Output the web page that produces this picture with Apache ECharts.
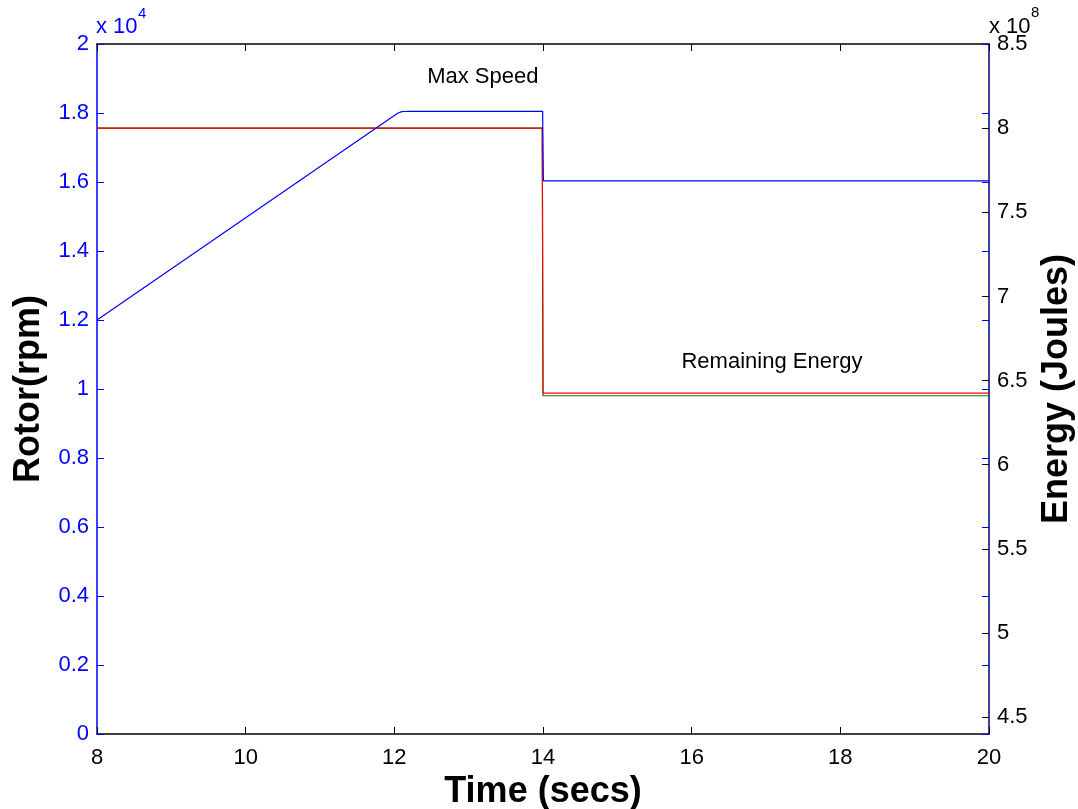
<!DOCTYPE html>
<html>
<head>
<meta charset="utf-8">
<script src="https://cdn.jsdelivr.net/npm/echarts@6/dist/echarts.min.js"></script>
<style>
  html, body { margin: 0; padding: 0; background: #fff; }
  #chart { width: 1078px; height: 809px; }
</style>
</head>
<body>
<div id="chart"></div>
<script>
// Rotor speed (x10^4 rpm) against time (s)
const rotorTime  = [8, 12.0, 12.05, 12.1, 12.2, 13.995, 14.005, 20];
const rotorSpeed = [1.2, 1.793, 1.8, 1.804, 1.805, 1.805, 1.603, 1.603];

// Energy (x10^8 J) against time (s)
const energyTime   = [8, 13.99, 14.0, 20];
const energyRed    = [8.0, 8.0, 6.425, 6.425];
const energyGreen  = [8.0, 8.0, 6.41, 6.41];

// Axis tick values
const timeTicks   = [8, 10, 12, 14, 16, 18, 20];
const rotorTicks  = [0, 0.2, 0.4, 0.6, 0.8, 1, 1.2, 1.4, 1.6, 1.8, 2];
const energyTicks = [4.5, 5, 5.5, 6, 6.5, 7, 7.5, 8, 8.5];

// Annotation anchors [time, value]
const maxSpeedAt  = [13.19, 1.905];
const remainingAt = [17.08, 6.61];

const pairs = (xs, ys) => xs.map((x, i) => [x, ys[i]]);

const FONT = 'Liberation Sans, Arial, Helvetica, sans-serif';
const BLUE = '#0000ff';
const NAVY = '#00007f';

const chart = echarts.init(document.getElementById('chart'), null, { renderer: 'canvas' });

const noteLabel = (text) => ({
  show: true, position: 'inside', formatter: text,
  fontFamily: FONT, fontSize: 22, color: '#000'
});

const titleStyle = { fontFamily: FONT, fontSize: 36, fontWeight: 'bold', color: '#000' };

chart.setOption({
  animation: false,
  backgroundColor: '#ffffff',
  grid: { left: 97, right: 89, top: 44, bottom: 75, containLabel: false, outerBoundsMode: 'none' },
  xAxis: [
    {
      type: 'value', position: 'bottom', min: 8, max: 20, interval: 2,
      name: 'Time (secs)', nameLocation: 'middle', nameGap: 34,
      nameTextStyle: titleStyle,
      axisLine: { show: true, onZero: false, lineStyle: { color: '#000', width: 1.5 } },
      axisTick: { show: true, inside: true, length: 7, lineStyle: { color: '#000' } },
      axisLabel: { fontFamily: FONT, fontSize: 22, color: '#000', margin: 13,
                   customValues: timeTicks },
      splitLine: { show: false }
    },
    {
      type: 'value', position: 'top', min: 8, max: 20, interval: 2,
      axisLine: { show: true, onZero: false, lineStyle: { color: '#000', width: 1.5 } },
      axisTick: { show: true, inside: true, length: 7, lineStyle: { color: '#000' } },
      axisLabel: { show: false },
      splitLine: { show: false }
    }
  ],
  yAxis: [
    {
      type: 'value', position: 'left', min: 0, max: 2, interval: 0.2,
      name: 'Rotor(rpm)', nameLocation: 'middle', nameGap: 49, nameRotate: 90,
      nameTextStyle: titleStyle,
      axisLine: { show: true, onZero: false, lineStyle: { color: BLUE, width: 1.5 } },
      axisTick: { show: true, inside: true, length: 7, lineStyle: { color: BLUE } },
      axisLabel: { fontFamily: FONT, fontSize: 22, color: BLUE, margin: 8,
                   customValues: rotorTicks },
      splitLine: { show: false }
    },
    {
      type: 'value', position: 'right', min: 4.4, max: 8.5,
      name: 'Energy (Joules)', nameLocation: 'middle', nameGap: 50, nameRotate: 90,
      nameTextStyle: titleStyle,
      axisLine: { show: true, onZero: false, lineStyle: { color: NAVY, width: 1.5 } },
      axisTick: { show: true, inside: true, length: 7, lineStyle: { color: '#000' },
                  customValues: energyTicks },
      axisLabel: { fontFamily: FONT, fontSize: 22, color: '#000', margin: 8,
                   customValues: energyTicks },
      splitLine: { show: false }
    },
    {
      // rotor ticks mirrored on the right edge
      type: 'value', position: 'right', min: 0, max: 2, interval: 0.2,
      axisLine: { show: false },
      axisTick: { show: true, inside: true, length: 7, lineStyle: { color: BLUE } },
      axisLabel: { show: false },
      splitLine: { show: false }
    }
  ],
  series: [
    {
      type: 'line', name: 'Rotor', xAxisIndex: 0, yAxisIndex: 0,
      data: pairs(rotorTime, rotorSpeed), showSymbol: false, symbol: 'none',
      lineStyle: { color: BLUE, width: 1.2 }, z: 3,
      markPoint: {
        symbol: 'circle', symbolSize: 1, silent: true,
        itemStyle: { color: 'rgba(0,0,0,0)' },
        data: [{ coord: maxSpeedAt }],
        label: noteLabel('Max Speed')
      }
    },
    {
      type: 'line', name: 'Energy 2', xAxisIndex: 0, yAxisIndex: 1,
      data: pairs(energyTime, energyGreen), showSymbol: false, symbol: 'none',
      lineStyle: { color: '#008000', width: 1.2 }, z: 2
    },
    {
      type: 'line', name: 'Energy 1', xAxisIndex: 0, yAxisIndex: 1,
      data: pairs(energyTime, energyRed), showSymbol: false, symbol: 'none',
      lineStyle: { color: '#ff0000', width: 1.2 }, z: 2,
      markPoint: {
        symbol: 'circle', symbolSize: 1, silent: true,
        itemStyle: { color: 'rgba(0,0,0,0)' },
        data: [{ coord: remainingAt }],
        label: noteLabel('Remaining Energy')
      }
    }
  ],
  graphic: [
    { type: 'text', left: 96, top: 16,
      style: { text: 'x 10', font: '22px ' + FONT, fill: BLUE } },
    { type: 'text', left: 138, top: 6,
      style: { text: '4', font: '15px ' + FONT, fill: BLUE } },
    { type: 'text', left: 989, top: 16,
      style: { text: 'x 10', font: '22px ' + FONT, fill: '#000' } },
    { type: 'text', left: 1031, top: 5,
      style: { text: '8', font: '15px ' + FONT, fill: '#000' } }
  ]
});
</script>
</body>
</html>
